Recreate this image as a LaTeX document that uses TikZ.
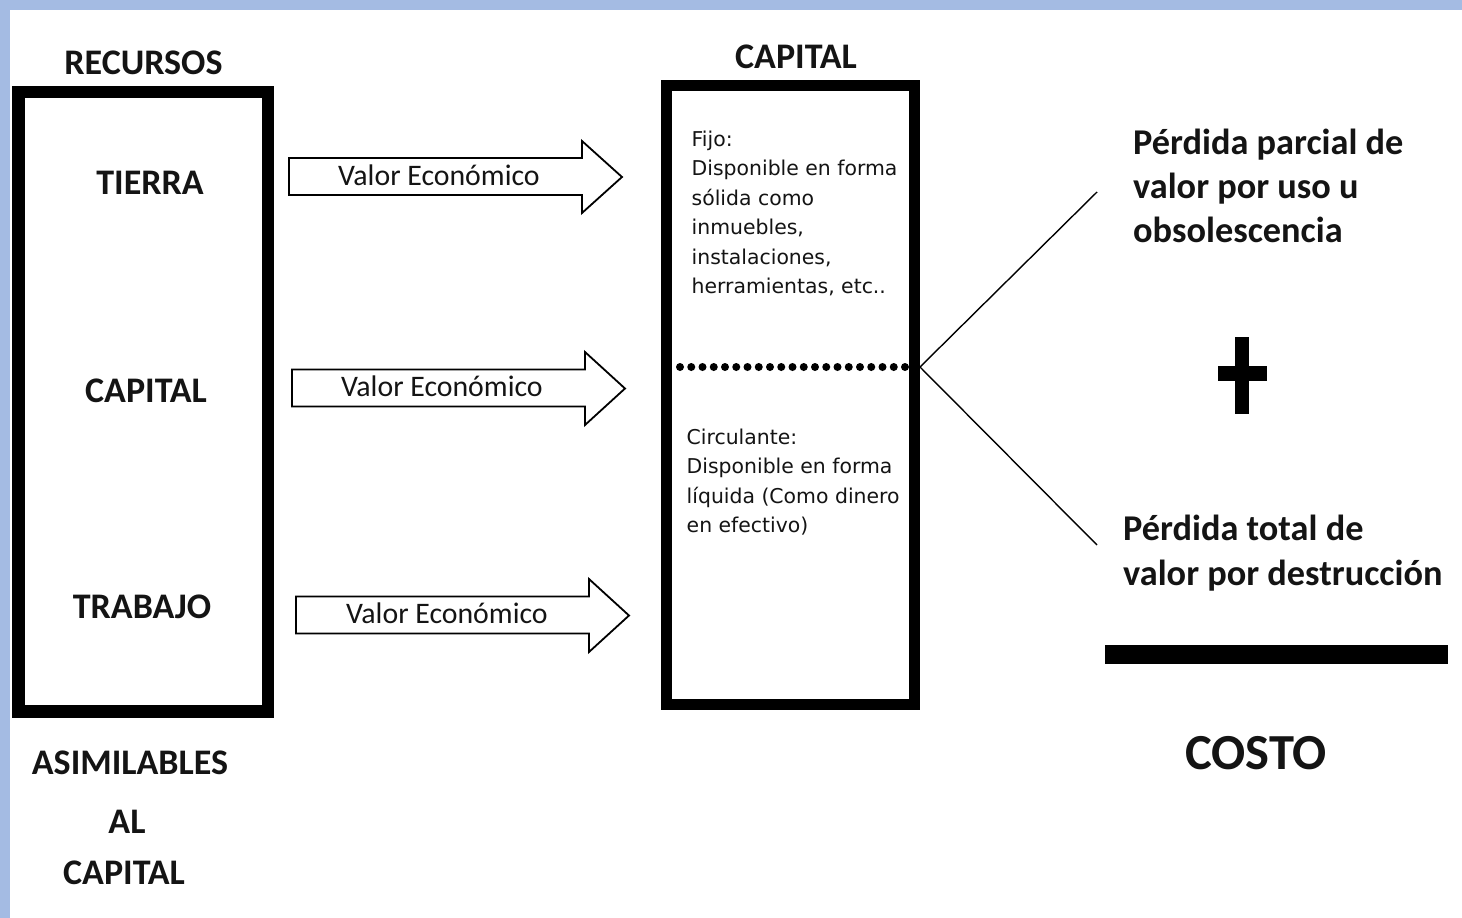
\documentclass[tikz,border=0pt]{standalone}
\usepackage{fontspec}
\setmainfont{Carlito}
\newfontfamily\smallsans{DejaVu Sans}
\definecolor{frameblue}{HTML}{A4BBE3}
\definecolor{ink}{HTML}{141414}
\begin{document}
\begin{tikzpicture}[x=1pt,y=-1pt,
  headtxt/.style={font=\bfseries\fontsize{36}{42}\selectfont, inner sep=0, text=ink},
  losstxt/.style={font=\bfseries\fontsize{36.3}{42}\selectfont, inner sep=0, anchor=base west, text=ink},
  smalltxt/.style={font=\smallsans\fontsize{20.4}{29}\selectfont, inner sep=0, anchor=base west, text=ink},
  valtxt/.style={font=\fontsize{29.8}{34}\selectfont, inner sep=0, anchor=base west, text=ink},
  bigbox/.style={draw=black, rectangle, inner sep=0},
  blockarrow/.style={draw=black, line width=1.8pt, fill=white, line join=miter},
  thinline/.style={draw=black, line width=1.4pt}
]
\useasboundingbox (0,0) rectangle (1462,918);
\fill[white] (0,0) rectangle (1462,918);
% blue frame
\fill[frameblue] (0,0) rectangle (1462,10);
\fill[frameblue] (0,0) rectangle (10,918);

% left box
\node[bigbox, line width=12.5pt, minimum width=249.5pt, minimum height=619.5pt] (recbox) at (143.25,401.75) {};
\node[headtxt] (recursos) at (143.5,62.5) {RECURSOS};
\node[headtxt] (tierra) at (150,183) {TIERRA};
\node[headtxt] (capl) at (146,391) {CAPITAL};
\node[headtxt] (trabajo) at (142,607) {TRABAJO};
\node[headtxt] (asim) at (130,763) {ASIMILABLES};
\node[headtxt] (al) at (127,822) {AL};
\node[headtxt] (capb) at (124,873) {CAPITAL};

% arrows
\draw[blockarrow] (289,158) -- (582,158) -- (582,141) -- (622,177) -- (582,213) -- (582,195) -- (289,195) -- cycle;
\draw[blockarrow] (292,369.5) -- (585,369.5) -- (585,352) -- (625,388.5) -- (585,425) -- (585,406.5) -- (292,406.5) -- cycle;
\draw[blockarrow] (296,596.5) -- (589,596.5) -- (589,579) -- (629,615.5) -- (589,652) -- (589,633.5) -- (296,633.5) -- cycle;
\node[valtxt] (v1) at (338,185) {Valor Económico};
\node[valtxt] (v2) at (341,396) {Valor Económico};
\node[valtxt] (v3) at (346,623) {Valor Económico};

% capital box
\node[bigbox, line width=11pt, minimum width=248.5pt, minimum height=619pt] (capbox) at (790.25,395) {};
\node[headtxt] (captop) at (796,57) {CAPITAL};
\draw[line width=8pt, line cap=round, dash pattern=on 0pt off 11.25pt] (680,367) -- (906,367);

\node[smalltxt] (f1) at (691.5,146) {Fijo:};
\node[smalltxt] (f2) at (691.5,175.5) {Disponible en forma};
\node[smalltxt] (f3) at (691.5,205) {sólida como};
\node[smalltxt] (f4) at (691.5,234.5) {inmuebles,};
\node[smalltxt] (f5) at (691.5,264) {instalaciones,};
\node[smalltxt] (f6) at (691.5,293.5) {herramientas, etc..};

\node[smalltxt] (c1) at (686.5,444) {Circulante:};
\node[smalltxt] (c2) at (686.5,473.5) {Disponible en forma};
\node[smalltxt] (c3) at (686.5,503) {líquida (Como dinero};
\node[smalltxt] (c4) at (686.5,532) {en efectivo)};

% connectors
\coordinate (split) at (920,367);
\coordinate (upend) at (1097,192);
\coordinate (downend) at (1097,545);
\draw[thinline] (split) -- (upend);
\draw[thinline] (split) -- (downend);

% right texts
\node[losstxt] (p1) at (1133,154) {Pérdida parcial de};
\node[losstxt] (p2) at (1133,198) {valor por uso u};
\node[losstxt] (p3) at (1133,242) {obsolescencia};
\node[losstxt] (t1) at (1123,540) {Pérdida total de};
\node[losstxt] (t2) at (1123,585) {valor por destrucción};

% plus sign
\fill[black] (1218,366) rectangle (1266.5,380.5);
\fill[black] (1235,336.5) rectangle (1249,413.5);

% result bar
\fill[black] (1105,645) rectangle (1448,664);
\node[font=\bfseries\fontsize{50.5}{58}\selectfont, inner sep=0, text=ink] (costo) at (1256,753) {COSTO};
\end{tikzpicture}
\end{document}
